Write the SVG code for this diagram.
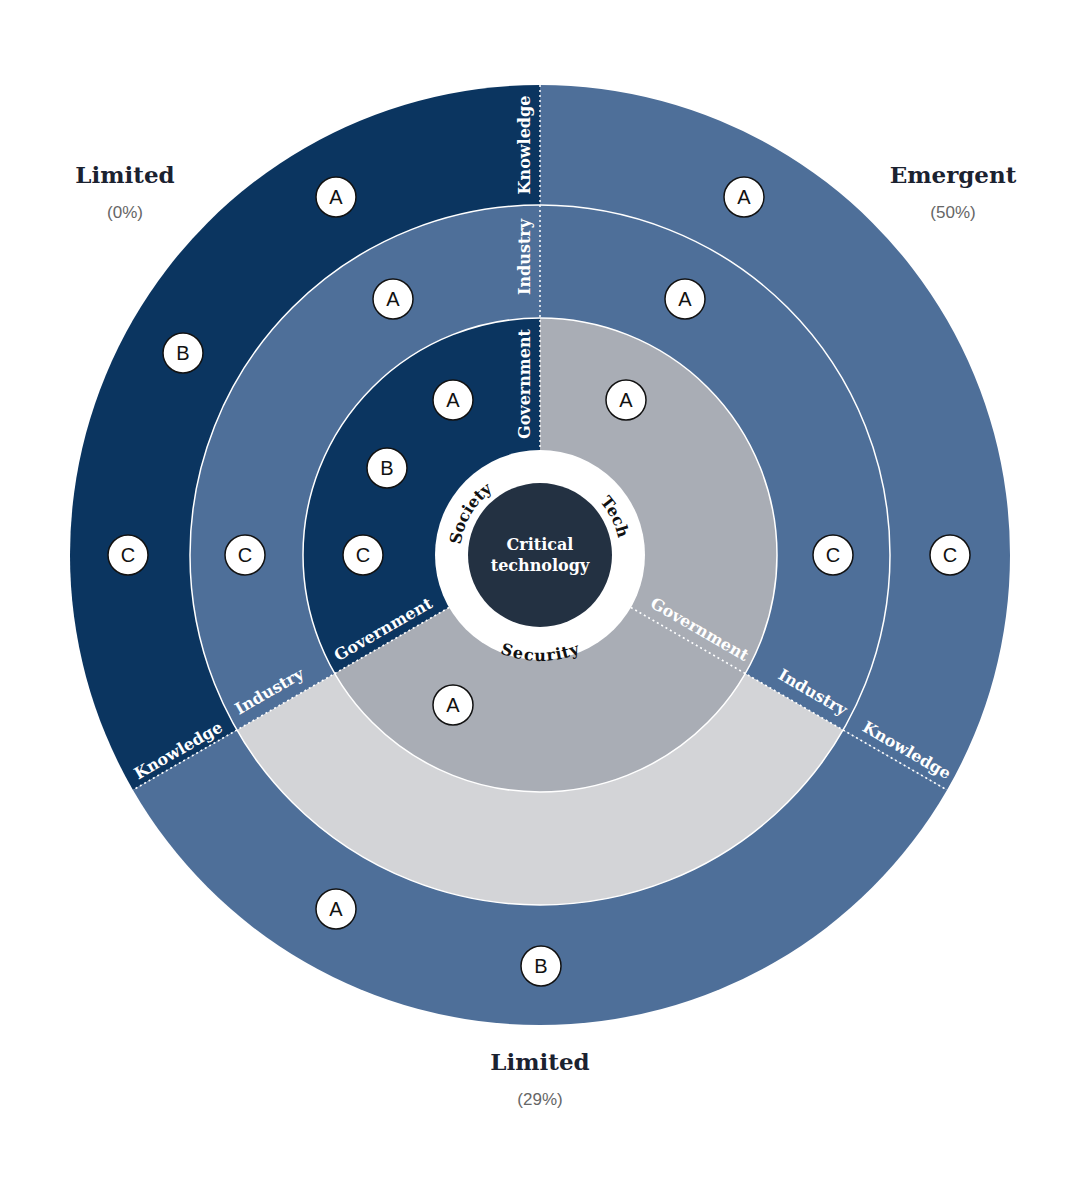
<svg xmlns="http://www.w3.org/2000/svg" width="1080" height="1184" viewBox="0 0 1080 1184">
<style>
.mk circle{fill:#fff;stroke:#111;stroke-width:1.5}
.mk text{font-family:"Liberation Sans",Arial,sans-serif;font-size:20px;fill:#111;text-anchor:middle;dominant-baseline:central}
.bl{font-family:"DejaVu Serif","Liberation Serif",serif;font-weight:bold;font-size:16px;fill:#fff;text-anchor:middle}
.ring{font-family:"DejaVu Serif","Liberation Serif",serif;font-weight:bold;font-size:16px;fill:#111;text-anchor:middle}
.ttl{font-family:"DejaVu Serif","Liberation Serif",serif;font-weight:bold;font-size:23px;fill:#1b2230;text-anchor:middle}
.pct{font-family:"Liberation Sans",Arial,sans-serif;font-size:17px;fill:#666;text-anchor:middle}
.sep{fill:none;stroke:#fff;stroke-width:1.5}
.dot{stroke:#fff;stroke-width:1.5;stroke-dasharray:2 3}
</style>
<defs>
<path id="topArc" d="M460,555 A80,80 0 0 1 620,555"/>
<path id="botArc" d="M446,555 A94,94 0 0 0 634,555"/>
</defs>
<rect width="1080" height="1184" fill="#fff"/>
<g id="sectors">
<!-- outer ring r470 -->
<path d="M540,555 L540,85 A470,470 0 0 0 132.96,790 Z" fill="#0b3560"/>
<path d="M540,555 L540,85 A470,470 0 0 1 947.04,790 Z" fill="#4e6f99"/>
<path d="M540,555 L947.04,790 A470,470 0 0 1 132.96,790 Z" fill="#4e6f99"/>
<!-- industry r350 -->
<path d="M540,555 L540,205 A350,350 0 0 0 236.9,730 Z" fill="#4e6f99"/>
<path d="M540,555 L540,205 A350,350 0 0 1 843.1,730 Z" fill="#4e6f99"/>
<path d="M540,555 L843.1,730 A350,350 0 0 1 236.9,730 Z" fill="#d3d4d7"/>
<!-- government r237 -->
<path d="M540,555 L540,318 A237,237 0 0 0 334.75,673.5 Z" fill="#0b3560"/>
<path d="M540,555 L540,318 A237,237 0 0 1 745.25,673.5 Z" fill="#a9adb5"/>
<path d="M540,555 L745.25,673.5 A237,237 0 0 1 334.75,673.5 Z" fill="#a9adb5"/>
<circle class="sep" cx="540" cy="555" r="350"/>
<circle class="sep" cx="540" cy="555" r="237"/>
</g>
<g id="connectors">
<line class="dot" x1="540" y1="85" x2="540" y2="450"/>
<line class="dot" x1="630.9" y1="607.5" x2="947.04" y2="790"/>
<line class="dot" x1="449.1" y1="607.5" x2="132.96" y2="790"/>
</g>
<g id="center">
<circle cx="540" cy="555" r="105" fill="#fff"/>
<circle cx="540" cy="555" r="72" fill="#233142"/>
<text class="bl" x="540" y="550">Critical</text>
<text class="bl" x="540" y="571">technology</text>
<text class="ring"><textPath href="#topArc" startOffset="17%">Society</textPath></text>
<text class="ring"><textPath href="#topArc" startOffset="85%">Tech</textPath></text>
<text class="ring" dominant-baseline="hanging"><textPath href="#botArc" startOffset="50%">Security</textPath></text>
</g>
<g id="boundary-labels">
<text class="bl" transform="translate(530,145) rotate(-90)">Knowledge</text>
<text class="bl" transform="translate(530,257) rotate(-90)">Industry</text>
<text class="bl" transform="translate(530,384) rotate(-90)">Government</text>
<text class="bl" transform="translate(697,634) rotate(30)">Government</text>
<text class="bl" transform="translate(810,697) rotate(30)">Industry</text>
<text class="bl" transform="translate(904,755) rotate(30)">Knowledge</text>
<text class="bl" transform="translate(386,634) rotate(-30)">Government</text>
<text class="bl" transform="translate(272,696) rotate(-30)">Industry</text>
<text class="bl" transform="translate(181,755) rotate(-30)">Knowledge</text>
</g>
<g id="markers" class="mk">
<g><circle cx="336" cy="197" r="20"/><text x="336" y="197">A</text></g>
<g><circle cx="183" cy="353" r="20"/><text x="183" y="353">B</text></g>
<g><circle cx="128" cy="555" r="20"/><text x="128" y="555">C</text></g>
<g><circle cx="393" cy="299" r="20"/><text x="393" y="299">A</text></g>
<g><circle cx="245" cy="555" r="20"/><text x="245" y="555">C</text></g>
<g><circle cx="453" cy="400" r="20"/><text x="453" y="400">A</text></g>
<g><circle cx="387" cy="468" r="20"/><text x="387" y="468">B</text></g>
<g><circle cx="363" cy="555" r="20"/><text x="363" y="555">C</text></g>
<g><circle cx="744" cy="197" r="20"/><text x="744" y="197">A</text></g>
<g><circle cx="685" cy="299" r="20"/><text x="685" y="299">A</text></g>
<g><circle cx="626" cy="400" r="20"/><text x="626" y="400">A</text></g>
<g><circle cx="833" cy="555" r="20"/><text x="833" y="555">C</text></g>
<g><circle cx="950" cy="555" r="20"/><text x="950" y="555">C</text></g>
<g><circle cx="453" cy="705" r="20"/><text x="453" y="705">A</text></g>
<g><circle cx="336" cy="909" r="20"/><text x="336" y="909">A</text></g>
<g><circle cx="541" cy="966" r="20"/><text x="541" y="966">B</text></g>
</g>
<g id="titles">
<text class="ttl" x="125" y="183">Limited</text>
<text class="pct" x="125" y="218">(0%)</text>
<text class="ttl" x="953" y="183">Emergent</text>
<text class="pct" x="953" y="218">(50%)</text>
<text class="ttl" x="540" y="1070">Limited</text>
<text class="pct" x="540" y="1105">(29%)</text>
</g>
</svg>
